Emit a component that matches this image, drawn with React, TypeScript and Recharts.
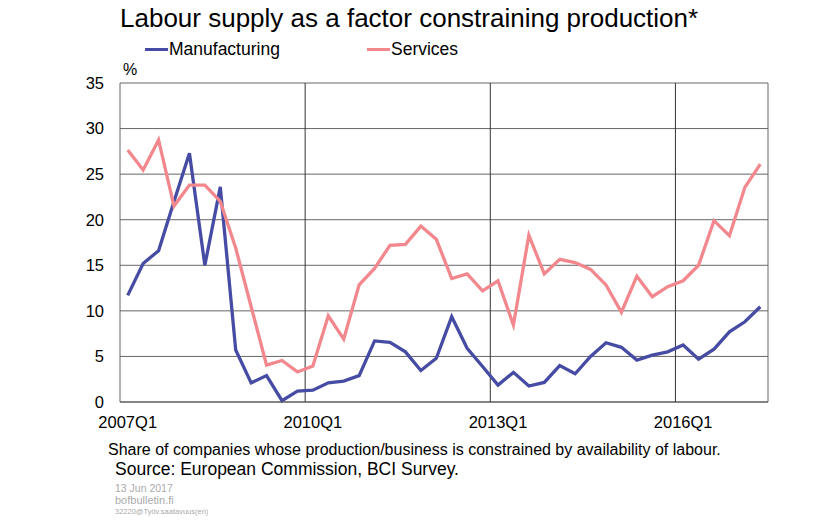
import React from "react";
import {
  CartesianGrid,
  Line,
  LineChart,
  ReferenceLine,
  XAxis,
  YAxis,
} from "recharts";

// quarterly series, 2007Q1 .. 2017Q2
const manufacturing = [
  11.7, 15.2, 16.6, 22.0, 27.3, 15.0, 23.6, 5.7, 2.1, 2.9, 0.15, 1.2,
  1.3, 2.1, 2.3, 2.9, 6.7, 6.55, 5.5, 3.45, 4.8, 9.35, 5.9, 3.9,
  1.85, 3.25, 1.75, 2.15, 4.0, 3.1, 5.0, 6.5, 6.0, 4.6, 5.15, 5.5,
  6.25, 4.7, 5.8, 7.7, 8.8, 10.45,
];
const services = [
  27.65, 25.45, 28.75, 21.5, 23.8, 23.8, 22.0, 16.9, 10.45, 4.05, 4.55, 3.3,
  3.95, 9.45, 6.9, 12.85, 14.65, 17.2, 17.3, 19.3, 17.85, 13.55, 14.05, 12.2,
  13.3, 8.45, 18.3, 14.05, 15.65, 15.3, 14.55, 12.85, 9.85, 13.8, 11.55, 12.65,
  13.3, 15.0, 19.9, 18.25, 23.55, 26.1,
];
const firstYear = 2007;
const tickLabels = ["2007Q1", "2010Q1", "2013Q1", "2016Q1"];
const yTicks = [0, 5, 10, 15, 20, 25, 30, 35];

const quarters = manufacturing.map(
  (_, i) => `${firstYear + Math.floor(i / 4)}Q${(i % 4) + 1}`
);
const data = quarters.map((q, i) => ({
  q,
  pos: i + 0.5,
  manufacturing: manufacturing[i],
  services: services[i],
}));
const labelTicks = tickLabels.map((l) => quarters.indexOf(l) + 0.5);
const yearLines = tickLabels.slice(1).map((l) => quarters.indexOf(l));

const FONT = '"Liberation Sans", Arial, sans-serif';
const BLUE = "#464ca3";
const PINK = "#f2878d";

export default function App() {
  return (
    <div
      style={{
        position: "absolute",
        left: 0,
        top: 0,
        width: 840,
        height: 522,
        background: "#fff",
        fontFamily: FONT,
        color: "#000",
        overflow: "hidden",
      }}
    >
      <div style={{ position: "absolute", left: 120, top: 3, fontSize: 26, whiteSpace: "nowrap" }}>
        Labour supply as a factor constraining production*
      </div>

      {/* legend */}
      <div style={{ position: "absolute", left: 145, top: 39, display: "flex", alignItems: "center", fontSize: 17.5 }}>
        <span style={{ display: "inline-block", width: 23, height: 3, background: BLUE, marginRight: 1 }} />
        <span>Manufacturing</span>
      </div>
      <div style={{ position: "absolute", left: 367, top: 39, display: "flex", alignItems: "center", fontSize: 17.5 }}>
        <span style={{ display: "inline-block", width: 23, height: 3, background: PINK, marginRight: 1 }} />
        <span>Services</span>
      </div>
      <div style={{ position: "absolute", left: 123, top: 61, fontSize: 16 }}>%</div>

      <div style={{ position: "absolute", left: 0, top: 0 }}>
        <LineChart
          width={840}
          height={522}
          data={data}
          margin={{ top: 83, right: 72, bottom: 90, left: 60 }}
        >
          <CartesianGrid vertical={false} stroke="#666" strokeWidth={1} />
          <XAxis
            type="number"
            dataKey="pos"
            domain={[0, manufacturing.length]}
            ticks={labelTicks}
            tickFormatter={(v: number) => quarters[Math.floor(v)]}
            tickLine={false}
            tickSize={0}
            tickMargin={14}
            height={30}
            axisLine={{ stroke: "#555" }}
            tick={{ fill: "#000", fontSize: 16.5, fontFamily: FONT }}
            allowDecimals
          />
          <YAxis
            type="number"
            domain={[0, 35]}
            ticks={yTicks}
            width={60}
            tickLine={false}
            tickSize={0}
            tickMargin={16}
            axisLine={{ stroke: "#666" }}
            tick={{ fill: "#000", fontSize: 16.5, fontFamily: FONT }}
          />
          {yearLines.map((x) => (
            <ReferenceLine key={x} x={x} stroke="#333" strokeWidth={1} />
          ))}
          <ReferenceLine x={manufacturing.length} stroke="#666" strokeWidth={1} />
          <Line
            type="linear"
            dataKey="manufacturing"
            stroke={BLUE}
            strokeWidth={3.3}
            dot={false}
            isAnimationActive={false}
          />
          <Line
            type="linear"
            dataKey="services"
            stroke={PINK}
            strokeWidth={3.3}
            dot={false}
            isAnimationActive={false}
          />
        </LineChart>
      </div>

      <div style={{ position: "absolute", left: 108, top: 441, fontSize: 16, whiteSpace: "nowrap" }}>
        Share of companies whose production/business is constrained by availability of labour.
      </div>
      <div style={{ position: "absolute", left: 115, top: 459, fontSize: 17.5, whiteSpace: "nowrap" }}>
        Source: European Commission, BCI Survey.
      </div>
      <div style={{ position: "absolute", left: 115, top: 482, fontSize: 10.5, color: "#aaa" }}>13 Jun 2017</div>
      <div style={{ position: "absolute", left: 115, top: 494, fontSize: 11, color: "#aaa" }}>bofbulletin.fi</div>
      <div style={{ position: "absolute", left: 115, top: 507, fontSize: 7.5, color: "#aaa" }}>
        32220@Työv.saatavuus(en)
      </div>
    </div>
  );
}
